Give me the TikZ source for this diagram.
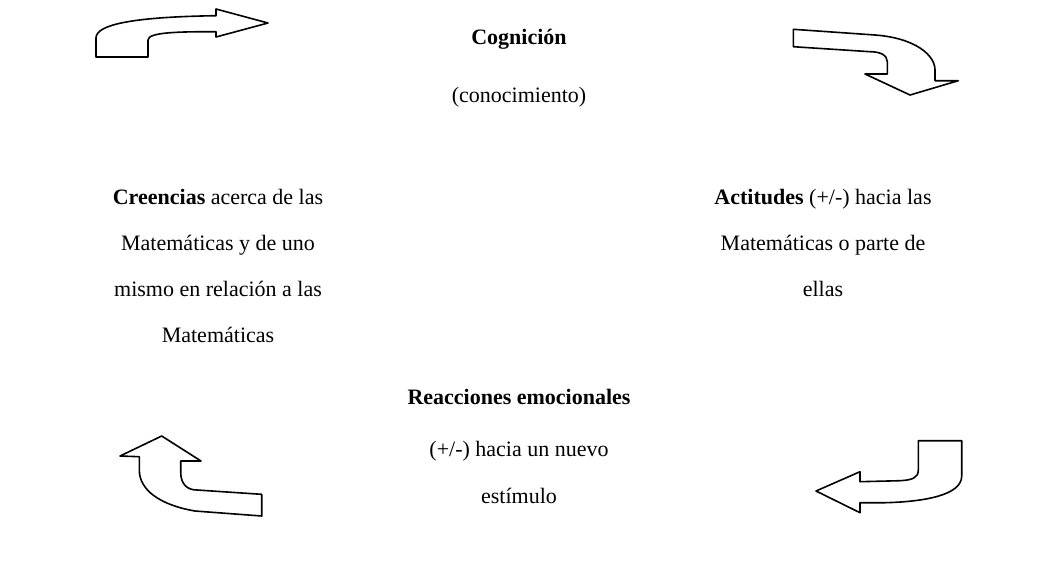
\documentclass[tikz,border=0pt]{standalone}
\usepackage{fontspec}
\setmainfont{Liberation Serif}
\begin{document}
\begin{tikzpicture}[x=0.75pt,y=-0.75pt,
  arr/.style={draw=black,line width=1.2pt,line join=round,fill=white},
  txt/.style={inner sep=0pt,anchor=base,font=\fontsize{16.5}{20}\selectfont}]
\useasboundingbox (0,0) rectangle (1044,561);
% top-left arrow
\draw[arr] (96,57) -- (96,38) .. controls (96,25) and (130,17) .. (216,15.7)
  -- (216,9) -- (268,23) -- (216,37) -- (216,31.7)
  .. controls (180,31.7) and (148,32) .. (148,40) -- (148,57) -- cycle;
% top-right arrow
\draw[arr] (793.3,29.3) -- (875,35) .. controls (915,38) and (935,55) .. (935,70)
  -- (935,80.7) -- (958.3,80.7) -- (910,95) -- (865,74) -- (887.3,74) -- (887.3,61.7)
  .. controls (887.3,55) and (880,51.7) .. (870,51.7) -- (793.3,46.7) -- cycle;
% bottom-left arrow
\draw[arr] (161.7,436) -- (201,461) -- (180.7,461) -- (180.7,472)
  .. controls (180.7,484) and (187,490) .. (197,490) -- (261.7,494.3) -- (261.7,516)
  -- (195,511) .. controls (160,505) and (139.3,490) .. (139.3,470) -- (139.3,456.7)
  -- (120,456) -- cycle;
% bottom-right arrow
\draw[arr] (816,491) -- (860,471.7) -- (860,481.7) -- (900,480.7)
  .. controls (912,480) and (918.3,478) .. (918.3,470) -- (918.3,440.7)
  -- (961.7,440.7) -- (961.7,476) .. controls (961.7,495) and (925,501.7) .. (885,502.7)
  -- (860,502.7) -- (860,512.7) -- cycle;
% texts
\node[txt] (c1) at (519,44) {\textbf{Cognición}};
\node[txt] (c2) at (519,102) {(conocimiento)};
\node[txt] (b1) at (218,204) {\textbf{Creencias} acerca de las};
\node[txt] (b2) at (218,250) {Matemáticas y de uno};
\node[txt] (b3) at (218,296) {mismo en relación a las};
\node[txt] (b4) at (218,342) {Matemáticas};
\node[txt] (a1) at (823,204) {\textbf{Actitudes} (+/-) hacia las};
\node[txt] (a2) at (823,250) {Matemáticas o parte de};
\node[txt] (a3) at (823,296) {ellas};
\node[txt] (r1) at (519,404) {\textbf{Reacciones emocionales}};
\node[txt] (r2) at (519,456) {(+/-) hacia un nuevo};
\node[txt] (r3) at (519,503) {estímulo};
\end{tikzpicture}
\end{document}
